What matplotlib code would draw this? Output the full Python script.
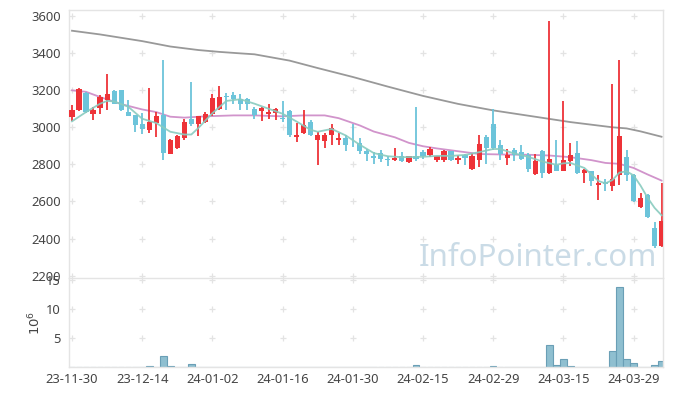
import matplotlib
matplotlib.use("Agg")
import matplotlib.pyplot as plt
import numpy as np

# daily candles, 85 trading days (index = trading day)
opens = [3054, 3090, 3186, 3069, 3103, 3148, 3195, 3198, 3079, 3063,
         3015, 2982, 3022, 3063, 2856, 2887, 2943, 3045, 3018, 3027,
         3072, 3096, 3164, 3171, 3153, 3150, 3099, 3086, 3070, 3076,
         3051, 3085, 2946, 2968, 3025, 2928, 2923, 2955, 2928, 2941,
         2916, 2912, 2869, 2847, 2859, 2827, 2824, 2847, 2811, 2847,
         2865, 2852, 2824, 2824, 2869, 2824, 2851, 2773, 2822, 2945,
         3018, 2906, 2832, 2874, 2865, 2852, 2748, 2869, 2751, 2798,
         2766, 2820, 2862, 2751, 2761, 2686, 2706, 2685, 2744, 2838,
         2744, 2568, 2636, 2456, 2357]
highs = [3117, 3211, 3190, 3108, 3171, 3285, 3198, 3200, 3144, 3066,
         3076, 3213, 3081, 3364, 2937, 2960, 3045, 3243, 3060, 3081,
         3180, 3220, 3184, 3188, 3180, 3159, 3108, 3108, 3126, 3105,
         3141, 3090, 3022, 3090, 3040, 2973, 2968, 3018, 2968, 2955,
         3018, 2941, 2883, 2865, 2874, 2847, 2889, 2865, 2847, 3108,
         2874, 2892, 2847, 2874, 2872, 2851, 2856, 2859, 2957, 2959,
         3096, 2928, 2883, 2887, 2906, 2859, 2856, 2878, 3573, 2928,
         3139, 2916, 2923, 2772, 2762, 2743, 2721, 3231, 3364, 2878,
         2746, 2643, 2638, 2487, 2697]
lows = [3032, 3085, 3078, 3040, 3072, 3094, 3124, 3088, 3058, 2973,
        2964, 2968, 2946, 2824, 2853, 2881, 2928, 3004, 2950, 3022,
        3062, 3090, 3094, 3123, 3094, 3094, 3045, 3032, 3042, 3040,
        3027, 2946, 2919, 2964, 2953, 2797, 2887, 2906, 2905, 2870,
        2892, 2856, 2820, 2802, 2811, 2788, 2820, 2811, 2805, 2815,
        2829, 2838, 2811, 2811, 2820, 2802, 2797, 2770, 2786, 2802,
        2878, 2824, 2798, 2820, 2824, 2757, 2744, 2727, 2748, 2762,
        2762, 2793, 2748, 2697, 2681, 2608, 2658, 2658, 2690, 2712,
        2598, 2565, 2512, 2348, 2355]
closes = [3094, 3204, 3080, 3090, 3160, 3177, 3126, 3090, 3060, 3009,
          2989, 3027, 3062, 2859, 2928, 2950, 3027, 3018, 3058, 3069,
          3157, 3162, 3160, 3150, 3123, 3124, 3065, 3105, 3079, 3096,
          3042, 2955, 2955, 3009, 2955, 2955, 2960, 2997, 2941, 2901,
          2912, 2869, 2854, 2836, 2829, 2824, 2832, 2818, 2842, 2827,
          2847, 2880, 2842, 2869, 2824, 2832, 2832, 2842, 2910, 2890,
          2887, 2854, 2851, 2852, 2829, 2775, 2820, 2751, 2829, 2766,
          2824, 2852, 2751, 2770, 2712, 2697, 2692, 2721, 2950, 2744,
          2600, 2616, 2514, 2357, 2496]

# volume in millions
volume = [0.02, 0.02, 0.02, 0.02, 0.02, 0.02, 0.02, 0.02, 0.02, 0.02,
          0.02, 0.15, 0.02, 1.9, 0.15, 0.02, 0.1, 0.55, 0.02, 0.02,
          0.02, 0.02, 0.02, 0.02, 0.02, 0.02, 0.02, 0.02, 0.02, 0.02,
          0.02, 0.02, 0.02, 0.02, 0.02, 0.02, 0.02, 0.02, 0.02, 0.02,
          0.02, 0.02, 0.02, 0.02, 0.02, 0.02, 0.02, 0.02, 0.02, 0.35,
          0.02, 0.02, 0.02, 0.02, 0.02, 0.02, 0.02, 0.02, 0.02, 0.02,
          0.17, 0.02, 0.02, 0.02, 0.02, 0.02, 0.02, 0.1, 3.9, 0.35,
          1.5, 0.15, 0.12, 0.02, 0.02, 0.02, 0.02, 2.75, 13.8, 1.5,
          0.7, 0.12, 0.12, 0.35, 1.07]

# moving averages (day index, value)
ma5_idx = [0, 2, 4, 5, 6, 8, 10, 12, 14, 16, 17, 18, 20, 22, 24, 26, 28, 30,
           32, 34, 35, 37, 39, 41, 43, 45, 47, 50, 52, 54, 56, 58, 60, 61, 63,
           65, 67, 69, 70, 71, 73, 74, 75, 76, 77, 78, 79, 80, 81, 82, 83, 84]
ma5_val = [3031, 3081, 3126, 3141, 3138, 3110, 3045, 3022, 2975, 2960, 2960,
           2995, 3075, 3141, 3150, 3126, 3099, 3072, 3030, 2985, 2975, 2990,
           2955, 2905, 2860, 2843, 2838, 2840, 2845, 2845, 2850, 2865, 2882,
           2882, 2858, 2840, 2815, 2797, 2805, 2807, 2780, 2745, 2710, 2697,
           2715, 2755, 2762, 2740, 2685, 2620, 2565, 2525]
ma20_idx = [0, 2, 4, 7, 10, 12, 14, 16, 19, 23, 26, 30, 33, 36, 38, 41, 43,
            46, 48, 50, 52, 55, 58, 62, 65, 68, 71, 74, 76, 78, 80, 82, 84]
ma20_val = [3198, 3190, 3162, 3124, 3095, 3081, 3056, 3051, 3058, 3063, 3063,
            3058, 3063, 3063, 3048, 3009, 2976, 2945, 2915, 2897, 2885, 2870,
            2855, 2852, 2851, 2847, 2838, 2822, 2807, 2802, 2780, 2745, 2712]
ma120_idx = [0, 4, 10, 14, 18, 21, 24, 26, 31, 35, 40, 45, 50, 55, 60, 67,
             71, 77, 79, 81, 84]
ma120_val = [3519, 3499, 3463, 3434, 3415, 3405, 3397, 3392, 3358, 3318, 3270,
             3218, 3168, 3125, 3090, 3050, 3027, 2999, 2993, 2977, 2948]

tick_pos = [0, 10, 20, 30, 40, 50, 60, 70, 80]
tick_labels = ['23-11-30', '23-12-14', '24-01-02', '24-01-16', '24-01-30',
               '24-02-15', '24-02-29', '24-03-15', '24-03-29']
price_ticks = [2200, 2400, 2600, 2800, 3000, 3200, 3400, 3600]
vol_ticks = [5, 10, 15]

UP = '#ee3338'
DOWN = '#6cc4da'
GRIDC = '#e3e3e3'
SPINE = '#e4e4e4'
TXT = '#444444'
W, H = 673, 396

plt.rcParams['font.family'] = ['Noto Sans', 'DejaVu Sans']

fig = plt.figure(figsize=(W / 100, H / 100), dpi=100)
left, right = 69.3, 663
ax = fig.add_axes([left / W, 1 - 277.5 / H, (right - left) / W, (277.5 - 10.3) / H])
vax = fig.add_axes([left / W, 1 - 367.3 / H, (right - left) / W, (367.3 - 278.3) / H])

x = np.arange(len(opens))
o = np.array(opens)
c = np.array(closes)
up = c >= o
cols = np.where(up, UP, DOWN)

# grid crosses
gx, gy = np.meshgrid(tick_pos, price_ticks)
ax.plot(gx.ravel(), gy.ravel(), '+', color=GRIDC, ms=4.5, mew=0.9, zorder=0)
gx, gy = np.meshgrid(tick_pos, vol_ticks)
vax.plot(gx.ravel(), gy.ravel(), '+', color=GRIDC, ms=4.5, mew=0.9, zorder=0)

# moving averages
ax.plot(ma120_idx, ma120_val, color='#999999', lw=1.3, zorder=1)
ax.plot(ma20_idx, ma20_val, color='#cc88c6', lw=1.3, alpha=0.9, zorder=1)

# candles
ax.vlines(x, lows, highs, colors=cols, lw=1.3, zorder=2)
body_lo = np.minimum(o, c)
body_h = np.maximum(np.abs(c - o), 5)
ax.bar(x, body_h, bottom=body_lo, width=0.74, color=cols, lw=0, zorder=3)

ax.plot(ma5_idx, ma5_val, color='#88cbbf', lw=1.3, alpha=0.9, zorder=4)

ax.set_xlim(-0.385, 84.2)
ax.set_ylim(2190, 3629)
ax.set_yticks(price_ticks)
ax.set_xticks(tick_pos)
ax.tick_params(axis='x', length=0, labelbottom=False)
ax.tick_params(axis='y', length=0, pad=6, labelsize=9.3, labelcolor=TXT)

# volume
vax.bar(x, volume, width=0.95, color='#8fbfd0', edgecolor='#6a9fb6', lw=0.8, zorder=2)
vax.set_xlim(-0.385, 84.2)
vax.set_ylim(0, 15.26)
vax.set_yticks(vol_ticks)
vax.set_xticks(tick_pos)
vax.set_xticklabels(tick_labels)
vax.tick_params(length=0, labelsize=9.3, labelcolor=TXT)
vax.tick_params(axis='y', pad=6)
vax.tick_params(axis='x', pad=4)
vax.set_ylabel(r'$10^6$', fontsize=9.5, color=TXT, labelpad=2)

for a in (ax, vax):
    for s in a.spines.values():
        s.set_color(SPINE)
        s.set_linewidth(1)
ax.spines['bottom'].set_visible(False)

fig.text(657 / W, 1 - 266 / H, 'InfoPointer.com', color='#c5d8e4', fontsize=22.5,
         ha='right', va='baseline', alpha=0.9, zorder=10)

fig.savefig('out.png', dpi=100)
